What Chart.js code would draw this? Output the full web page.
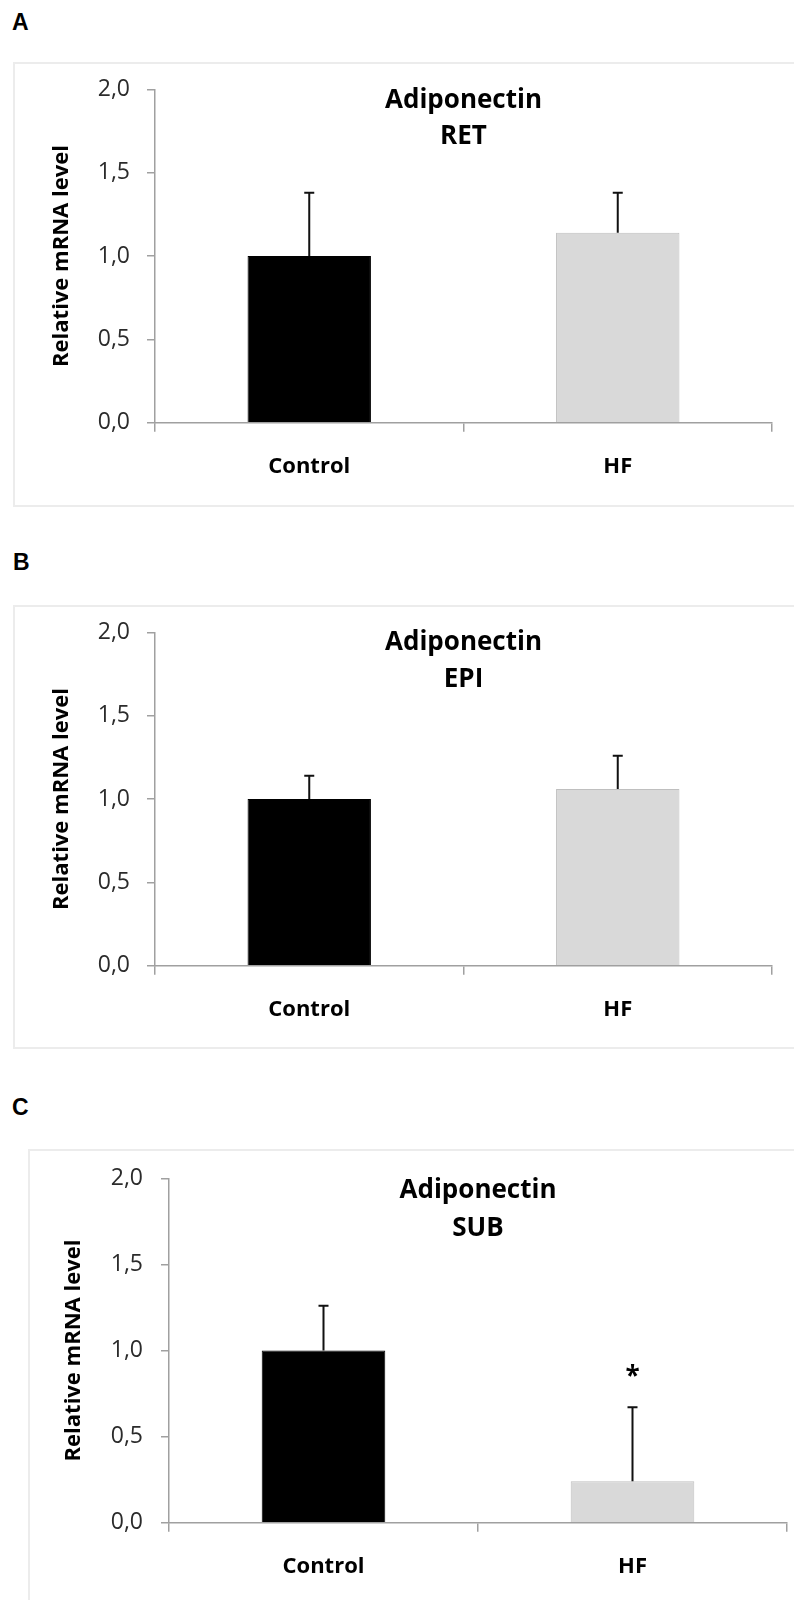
<!DOCTYPE html>
<html>
<head>
<meta charset="utf-8">
<script src="https://cdn.jsdelivr.net/npm/chart.js@4.4.1/dist/chart.umd.min.js"></script>
<style>
  body { margin: 0; background: #fff; width: 794px; height: 1600px; position: relative; overflow: hidden; }
  .box { position: absolute; border: 2px solid #ececec; border-right: none; width: 800px; }
  .lbl { position: absolute; font: bold 23px 'Liberation Sans', Arial, sans-serif; line-height: 23px; color: #000; }
  canvas { position: absolute; left: 0; }
</style>
</head>
<body>
<div class="lbl" style="left:12px; top:11px;">A</div>
<div class="box" style="left:13px; top:62px; height:441px;"></div>
<canvas id="chartA" width="794" height="540" style="top:0px;"></canvas>

<div class="lbl" style="left:13px; top:551px;">B</div>
<div class="box" style="left:13px; top:605px; height:440px;"></div>
<canvas id="chartB" width="794" height="540" style="top:540px;"></canvas>

<div class="lbl" style="left:12px; top:1096px;">C</div>
<div class="box" style="left:28px; top:1149px; height:500px;"></div>
<canvas id="chartC" width="794" height="520" style="top:1080px;"></canvas>

<script>
// ---- data ----
const categories = ['Control', 'HF'];
const yTickValues = [0, 0.5, 1.0, 1.5, 2.0];
const barColors = ['#000000', '#d9d9d9'];
const barBorders = ['#000000', '#bfbfbf'];

const retMeans = [1.00, 1.14];
const retErrors = [0.38, 0.24];
const epiMeans = [1.00, 1.06];
const epiErrors = [0.14, 0.20];
const subMeans = [1.00, 0.24];
const subErrors = [0.26, 0.43];
const subMarks = ['', '*'];

Chart.defaults.font.family = "'Open Sans', 'Noto Sans', sans-serif";
Chart.defaults.color = '#000';

// upper error bars + significance marks
const errorBars = {
  id: 'errorBars',
  afterDatasetsDraw(chart, args, opts) {
    const { ctx, scales: { x, y } } = chart;
    const vals = chart.data.datasets[0].data;
    ctx.save();
    ctx.strokeStyle = '#111';
    ctx.lineWidth = 2;
    vals.forEach((v, i) => {
      const px = x.getPixelForValue(i);
      const y0 = y.getPixelForValue(v);
      const y1 = y.getPixelForValue(v + opts.errors[i]);
      ctx.beginPath();
      ctx.moveTo(px, y0);
      ctx.lineTo(px, y1);
      ctx.moveTo(px - 5, y1);
      ctx.lineTo(px + 5, y1);
      ctx.stroke();
      if (opts.marks && opts.marks[i]) {
        ctx.fillStyle = '#000';
        ctx.font = "bold 26px 'Open Sans'";
        ctx.textAlign = 'center';
        ctx.textBaseline = 'middle';
        ctx.fillText(opts.marks[i], px, y1 - 30);
      }
    });
    ctx.restore();
  }
};

// title drawn inside the plot area
const innerTitle = {
  id: 'innerTitle',
  afterDraw(chart, args, opts) {
    const { ctx, chartArea } = chart;
    ctx.save();
    ctx.font = "bold 26px 'Open Sans'";
    ctx.fillStyle = '#000';
    ctx.textAlign = 'center';
    ctx.textBaseline = 'middle';
    const cx = (chartArea.left + chartArea.right) / 2;
    opts.lines.forEach((t, i) => ctx.fillText(t, cx, chartArea.top + opts.offsets[i]));
    ctx.restore();
  }
};

function makePanel(id, means, errors, titleLines, geo, marks) {
  const canvas = document.getElementById(id);
  const xAxisH = 80;
  return new Chart(canvas.getContext('2d'), {
    type: 'bar',
    data: {
      labels: categories,
      datasets: [{
        data: means,
        backgroundColor: barColors,
        borderColor: barBorders,
        borderWidth: 1,
        barPercentage: 0.4,
        categoryPercentage: 1.0,
      }]
    },
    plugins: [errorBars, innerTitle],
    options: {
      responsive: false,
      animation: false,
      devicePixelRatio: 1,
      layout: {
        padding: {
          left: 0,
          top: geo.top,
          right: canvas.width - geo.right,
          bottom: canvas.height - geo.bottom - xAxisH,
        }
      },
      plugins: {
        legend: { display: false },
        tooltip: { enabled: false },
        title: { display: false },
        errorBars: { errors: errors, marks: marks },
        innerTitle: { lines: titleLines, offsets: geo.titleOffsets },
      },
      scales: {
        x: {
          offset: true,
          afterFit: (s) => { s.height = xAxisH; },
          grid: { display: true, offset: true, drawOnChartArea: false, drawTicks: true, tickLength: 9, color: '#a0a0a0', lineWidth: 1.5 },
          border: { display: true, color: '#a0a0a0', width: 1.5 },
          ticks: { padding: 22, color: '#000', font: { size: 22, weight: 'bold' } },
        },
        y: {
          min: 0,
          max: 2,
          afterFit: (s) => { s.width = geo.left; },
          afterBuildTicks: (s) => { s.ticks = yTickValues.map(v => ({ value: v })); },
          grid: { display: true, drawOnChartArea: false, drawTicks: true, tickLength: 8, color: '#a0a0a0', lineWidth: 1.5 },
          border: { display: true, color: '#a0a0a0', width: 1.5 },
          ticks: {
            padding: geo.tickPad,
            color: '#2b2b2b',
            font: { size: 23 },
            callback: (v) => v.toFixed(1).replace('.', ','),
          },
          title: {
            display: true,
            text: 'Relative mRNA level',
            color: '#000',
            font: { size: 22, weight: 'bold' },
            padding: { top: geo.yTitlePad, bottom: 0 },
          },
        },
      },
    },
  });
}

makePanel('chartA', retMeans, retErrors, ['Adiponectin', 'RET'],
  { left: 155, right: 772, top: 89.3, bottom: 422.7, tickPad: 17, yTitlePad: 48.8, titleOffsets: [11, 47] });
makePanel('chartB', epiMeans, epiErrors, ['Adiponectin', 'EPI'],
  { left: 155, right: 772, top: 92.3, bottom: 425.7, tickPad: 17, yTitlePad: 48.8, titleOffsets: [10, 47] });
makePanel('chartC', subMeans, subErrors, ['Adiponectin', 'SUB'],
  { left: 169, right: 787, top: 98.3, bottom: 442.7, tickPad: 18, yTitlePad: 60.8, titleOffsets: [12, 50] }, subMarks);
</script>
</body>
</html>
